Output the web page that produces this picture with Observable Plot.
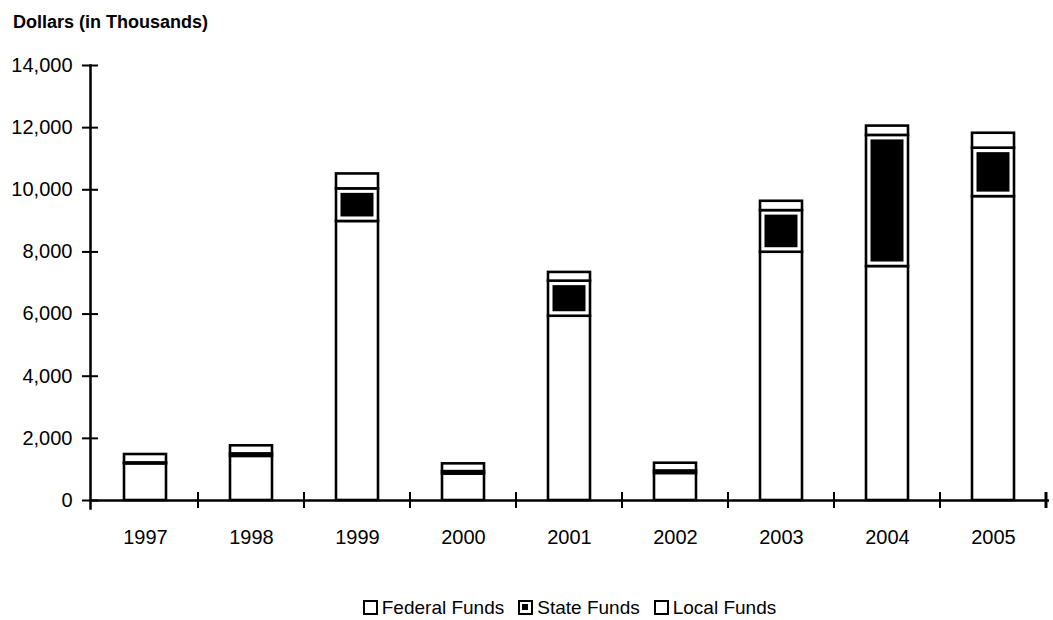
<!DOCTYPE html>
<html>
<head>
<meta charset="utf-8">
<script src="https://cdn.jsdelivr.net/npm/d3@7"></script>
<script src="https://cdn.jsdelivr.net/npm/@observablehq/plot@0.6"></script>
<style>
  html, body { margin: 0; padding: 0; background: #fff; }
  body { width: 1053px; height: 620px; overflow: hidden; font-family: "Liberation Sans", Arial, sans-serif; color: #000; }
  #title { box-sizing: border-box; height: 40px; padding: 13px 0 0 13px; font-size: 18px; line-height: 18px; font-weight: bold; }
  #chart svg { display: block; }
  #legend { box-sizing: border-box; height: 50px; padding: 28px 4px 0 90px; text-align: center; font-size: 19px; line-height: 19px; white-space: nowrap; }
  .item { display: inline-block; margin: 0 7px; }
  .sw { display: inline-block; box-sizing: border-box; width: 15px; height: 15px; border: 2.5px solid #000; background: #fff; vertical-align: -1px; margin-right: 4px; position: relative; }
  .sw.state::after { content: ""; position: absolute; left: 2px; top: 2px; width: 6px; height: 6px; background: #000; }
</style>
</head>
<body>
<div id="title">Dollars (in Thousands)</div>
<div id="chart"></div>
<div id="legend"></div>
<script>
const years = ["1997", "1998", "1999", "2000", "2001", "2002", "2003", "2004", "2005"];
const seriesNames = ["Federal Funds", "State Funds", "Local Funds"];
const federal = [1180, 1420, 8980, 850, 5930, 870, 7990, 7530, 9780];
const state   = [30, 80, 1050, 80, 1130, 80, 1340, 4220, 1560];
const local   = [270, 260, 480, 250, 280, 250, 300, 300, 480];
const yTicks = [0, 2000, 4000, 6000, 8000, 10000, 12000, 14000];

const seriesValues = [federal, state, local];
const data = [];
seriesNames.forEach((s, k) => years.forEach((yr, i) => data.push({year: yr, series: s, value: seriesValues[k][i]})));

function bandTicks(index, scales) {
  const x = scales.x, y = scales.y;
  const step = x.step(), bw = x.bandwidth();
  const y0 = y(0);
  const g = d3.create("svg:g").attr("stroke", "#000").attr("stroke-width", 2);
  years.forEach((yr, i) => {
    const px = x(yr) + bw + (step - bw) / 2;
    g.append("line").attr("x1", px).attr("x2", px).attr("y1", y0 - 8).attr("y2", y0 + 8)
      .attr("stroke-width", i === years.length - 1 ? 3 : 2);
  });
  return g.node();
}

const chart = Plot.plot({
  width: 1053,
  height: 530,
  marginTop: 25,
  marginBottom: 70,
  marginLeft: 90,
  marginRight: 4,
  style: {fontFamily: "'Liberation Sans', Arial, sans-serif", fontSize: "20px", color: "#000", background: "#fff"},
  x: {domain: years, paddingInner: 0.6, paddingOuter: 0.3, axis: null, label: null},
  y: {domain: [0, 14000], axis: null, label: null},
  color: {type: "identity"},
  marks: [
    Plot.barY(data, Plot.stackY({x: "year", y: "value", z: "series", order: seriesNames, fill: "#fff", stroke: "#000", strokeWidth: 2.6})),
    Plot.barY(data, Plot.stackY({x: "year", y: "value", z: "series", order: seriesNames, inset: 4.5,
      fill: d => d.series === "State Funds" ? "#000" : "none"})),
    Plot.ruleY([0], {stroke: "#000", strokeWidth: 2.5}),
    Plot.frame({anchor: "left", stroke: "#000", strokeWidth: 2.5, insetBottom: -8}),
    Plot.axisY(yTicks, {tickSize: 16, dx: 8, tickPadding: 10, strokeWidth: 2, tickFormat: d3.format(","), fontSize: 20, label: null}),
    Plot.axisX(years, {tickSize: 0, tickPadding: 29, fontSize: 20, label: null}),
    bandTicks
  ]
});
document.getElementById("chart").appendChild(chart);

const legend = document.getElementById("legend");
seriesNames.forEach((s, k) => {
  const item = document.createElement("span");
  item.className = "item";
  const sw = document.createElement("span");
  sw.className = "sw" + (k === 1 ? " state" : "");
  item.appendChild(sw);
  item.appendChild(document.createTextNode(s));
  legend.appendChild(item);
});
</script>
</body>
</html>
